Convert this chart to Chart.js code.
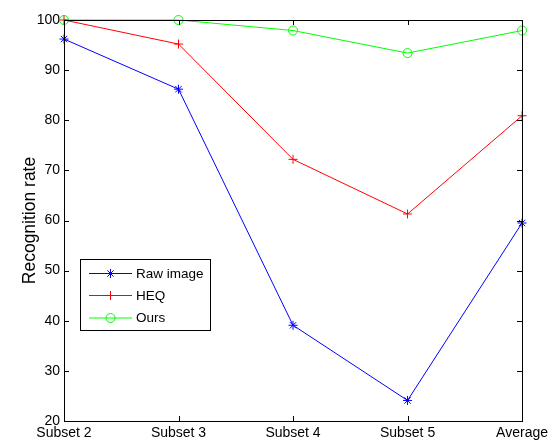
<!DOCTYPE html>
<html>
<head>
<meta charset="utf-8">
<script src="https://cdn.jsdelivr.net/npm/chart.js@4.4.1/dist/chart.umd.min.js"></script>
<style>
  html, body { margin: 0; padding: 0; background: #fff; }
  #wrap { width: 552px; height: 443px; }
</style>
</head>
<body>
<div id="wrap"><canvas id="chart"></canvas></div>
<script>
const FONT = "'Liberation Sans', Arial, Helvetica, sans-serif";

const categories = ["Subset 2", "Subset 3", "Subset 4", "Subset 5", "Average"];
const rawImage = [96.2, 86.2, 39.1, 24.1, 59.5];
const heq = [100, 95.2, 72.2, 61.3, 80.9];
const ours = [100, 100, 97.9, 93.4, 97.9];
const yTicks = [20, 30, 40, 50, 60, 70, 80, 90, 100];

function series(label, data, color, pointStyle) {
  return {
    label,
    data,
    borderColor: color,
    backgroundColor: "rgba(0,0,0,0)",
    borderWidth: 1,
    pointStyle,
    pointRadius: 4.5,
    pointBorderColor: color,
    pointBorderWidth: 1,
    pointBackgroundColor: "rgba(0,0,0,0)",
    tension: 0,
    clip: false,
  };
}

// box + inward ticks on all four sides, like matlab
const frame = {
  id: "frame",
  afterDraw(chart) {
    const { ctx, chartArea: a, scales } = chart;
    const len = 5;
    ctx.save();
    ctx.strokeStyle = "#000";
    ctx.lineWidth = 1;
    ctx.strokeRect(Math.round(a.left) + 0.5, Math.round(a.top) + 0.5,
      Math.round(a.right - a.left), Math.round(a.bottom - a.top));
    ctx.beginPath();
    categories.forEach((_, i) => {
      const x = Math.round(scales.x.getPixelForValue(i)) + 0.5;
      ctx.moveTo(x, a.bottom); ctx.lineTo(x, a.bottom - len);
      ctx.moveTo(x, a.top); ctx.lineTo(x, a.top + len);
    });
    yTicks.forEach((v) => {
      const y = Math.round(scales.y.getPixelForValue(v)) + 0.5;
      ctx.moveTo(a.left, y); ctx.lineTo(a.left + len, y);
      ctx.moveTo(a.right, y); ctx.lineTo(a.right - len, y);
    });
    ctx.stroke();
    ctx.restore();
  },
};

// legend box inside the axes
const legendBox = {
  id: "legendBox",
  afterDatasetsDraw(chart) {
    const { ctx } = chart;
    const box = { x: 80.5, y: 259.5, w: 130, h: 71 };
    const rows = [273.5, 295.5, 318];
    ctx.save();
    ctx.fillStyle = "#fff";
    ctx.fillRect(box.x, box.y, box.w, box.h);
    ctx.strokeStyle = "#000";
    ctx.lineWidth = 1;
    ctx.strokeRect(box.x, box.y, box.w, box.h);
    chart.data.datasets.forEach((ds, i) => {
      const y = rows[i];
      ctx.strokeStyle = ds.borderColor;
      ctx.beginPath();
      ctx.moveTo(89, y); ctx.lineTo(132, y);
      ctx.stroke();
      ctx.fillStyle = "rgba(0,0,0,0)";
      Chart.helpers.drawPoint(ctx, { pointStyle: ds.pointStyle, radius: 4.5, borderWidth: 1 }, 110.5, y);
      ctx.fillStyle = "#000";
      ctx.font = "13.5px " + FONT;
      ctx.textBaseline = "middle";
      ctx.textAlign = "left";
      ctx.fillText(ds.label, 136, y + 0.5);
    });
    ctx.restore();
  },
};

new Chart(document.getElementById("chart"), {
  type: "line",
  data: {
    labels: categories,
    datasets: [
      series("Raw image", rawImage, "#0000ff", "star"),
      series("HEQ", heq, "#ff0000", "cross"),
      series("Ours", ours, "#00ff00", "circle"),
    ],
  },
  options: {
    responsive: true,
    maintainAspectRatio: false,
    animation: false,
    layout: { padding: { left: 0, right: 29, top: 20, bottom: 0 } },
    plugins: { legend: { display: false }, tooltip: { enabled: false } },
    scales: {
      x: {
        type: "category",
        offset: false,
        grid: { display: false, drawTicks: false },
        border: { display: false },
        ticks: { color: "#000", font: { family: FONT, size: 14 }, padding: 4, maxRotation: 0, autoSkip: false },
        afterFit: (s) => { s.height = 22; },
      },
      y: {
        min: 20,
        max: 100,
        grid: { display: false, drawTicks: false },
        border: { display: false },
        afterBuildTicks: (s) => { s.ticks = yTicks.map((v) => ({ value: v })); },
        ticks: { color: "#000", font: { family: FONT, size: 14 }, padding: 4 },
        title: {
          display: true,
          text: "Recognition rate",
          color: "#000",
          font: { family: FONT, size: 17.5 },
          padding: { top: 20, bottom: 0 },
        },
        afterFit: (s) => { s.width = 64; },
      },
    },
  },
  plugins: [frame, legendBox],
});
</script>
</body>
</html>
